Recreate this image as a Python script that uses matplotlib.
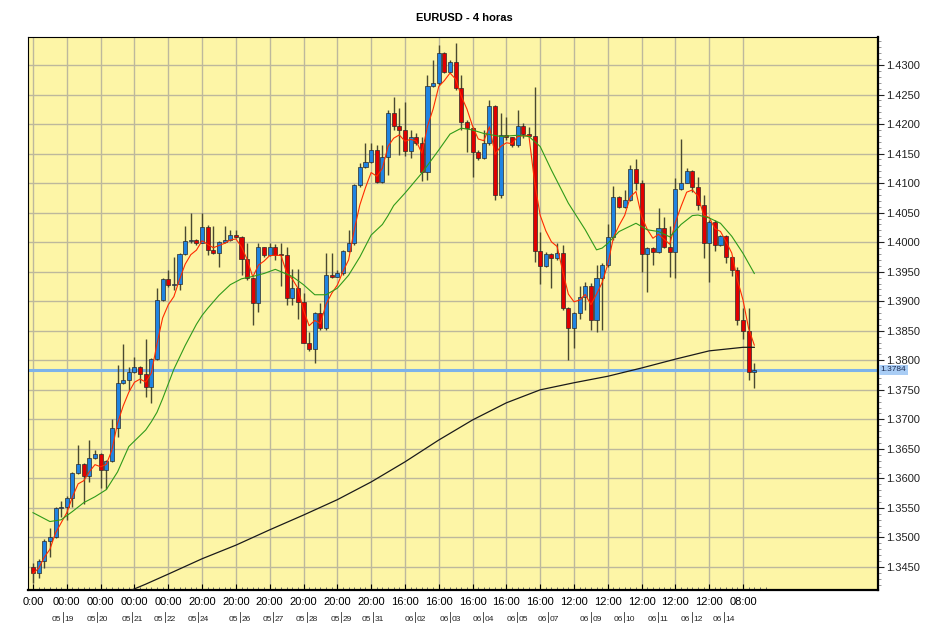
import matplotlib
matplotlib.use('Agg')
import matplotlib.pyplot as plt
import matplotlib.transforms as mtransforms
from matplotlib.ticker import MultipleLocator, FixedLocator, FormatStrFormatter
import numpy as np
import pandas as pd

# EURUSD 4h candles
opens = [1.34507, 1.34394, 1.34603, 1.34947, 1.35003, 1.35494, 1.35510, 1.35675, 1.36087, 1.36239,
         1.36042, 1.36341, 1.36414, 1.36143, 1.36296, 1.36849, 1.37611, 1.37667, 1.37808, 1.37882,
         1.37763, 1.37554, 1.38017, 1.39021, 1.39371, 1.39275, 1.39290, 1.39795, 1.40020, 1.40030,
         1.39981, 1.40263, 1.39868, 1.39823, 1.39998, 1.40037, 1.40122, 1.40082, 1.39721, 1.39388,
         1.38965, 1.39913, 1.39783, 1.39913, 1.39800, 1.39778, 1.39050, 1.39219, 1.38982, 1.38299,
         1.38186, 1.38807, 1.38542, 1.39445, 1.39405, 1.39484, 1.39851, 1.39992, 1.40968, 1.41267,
         1.41363, 1.41561, 1.41025, 1.41448, 1.42182, 1.41967, 1.41900, 1.41550, 1.41787, 1.41674,
         1.41194, 1.42645, 1.42690, 1.43209, 1.42887, 1.43056, 1.42605, 1.42041, 1.41928, 1.41533,
         1.41420, 1.41674, 1.42306, 1.40799, 1.41815, 1.41775, 1.41646, 1.41967, 1.41830, 1.41800,
         1.39856, 1.39600, 1.39799, 1.39726, 1.39810, 1.38879, 1.38541, 1.38795, 1.39065, 1.39257,
         1.38682, 1.39387, 1.39613, 1.40093, 1.40758, 1.40589, 1.40713, 1.41233, 1.40996, 1.39799,
         1.39895, 1.39839, 1.40234, 1.39923, 1.39839, 1.40894, 1.41007, 1.41210, 1.40939, 1.40629,
         1.39982, 1.40349, 1.39954, 1.40106, 1.39745, 1.39530, 1.38684, 1.38503, 1.37809]
highs = [1.34563, 1.34631, 1.34970, 1.35156, 1.35523, 1.35624, 1.35703, 1.36115, 1.36567, 1.36256,
         1.36651, 1.36482, 1.36437, 1.36313, 1.37001, 1.37921, 1.38277, 1.37893, 1.38062, 1.37900,
         1.38356, 1.38034, 1.39219, 1.39388, 1.39529, 1.39755, 1.39812, 1.40274, 1.40489, 1.40049,
         1.40489, 1.40291, 1.40274, 1.40026, 1.40274, 1.40200, 1.40210, 1.40105, 1.39990, 1.39417,
         1.39990, 1.39924, 1.39992, 1.39970, 1.39981, 1.39924, 1.39541, 1.39541, 1.39134, 1.38485,
         1.38824, 1.38976, 1.39823, 1.39823, 1.39529, 1.39868, 1.40207, 1.40990, 1.41335, 1.41674,
         1.41674, 1.41646, 1.41646, 1.42238, 1.42464, 1.42266, 1.42379, 1.41900, 1.41843, 1.41787,
         1.42831, 1.43085, 1.43339, 1.43220, 1.43085, 1.43367, 1.42831, 1.42069, 1.41956, 1.41561,
         1.41900, 1.42407, 1.42323, 1.42182, 1.42126, 1.41787, 1.42238, 1.42012, 1.41950, 1.42632,
         1.40177, 1.39839, 1.39822, 1.39980, 1.39952, 1.38900, 1.38823, 1.39257, 1.39331, 1.39302,
         1.39613, 1.39641, 1.40307, 1.40950, 1.40780, 1.40883, 1.41306, 1.41402, 1.41052, 1.39923,
         1.39910, 1.40572, 1.40431, 1.40273, 1.41080, 1.41740, 1.41249, 1.41221, 1.41108, 1.40800,
         1.40377, 1.40377, 1.40123, 1.40123, 1.39760, 1.39587, 1.38882, 1.38882, 1.37950]
lows = [1.34225, 1.34309, 1.34479, 1.34676, 1.34986, 1.35353, 1.35297, 1.35523, 1.36070, 1.35568,
        1.35946, 1.36324, 1.35833, 1.35816, 1.36284, 1.36708, 1.37599, 1.37498, 1.37780, 1.37611,
        1.37385, 1.37272, 1.38000, 1.39000, 1.39247, 1.39191, 1.39191, 1.39783, 1.39992, 1.39953,
        1.39981, 1.39783, 1.39800, 1.39586, 1.39981, 1.40026, 1.40065, 1.39445, 1.39360, 1.38598,
        1.38824, 1.39755, 1.39766, 1.39699, 1.39258, 1.38937, 1.38937, 1.38694, 1.38288, 1.38164,
        1.37949, 1.38514, 1.38514, 1.39388, 1.39405, 1.39445, 1.39840, 1.39953, 1.40940, 1.41251,
        1.41347, 1.40997, 1.41008, 1.41138, 1.41900, 1.41476, 1.41459, 1.41420, 1.41646, 1.41042,
        1.41053, 1.42633, 1.42661, 1.42859, 1.42859, 1.42577, 1.41900, 1.41533, 1.41109, 1.41392,
        1.41403, 1.41646, 1.40714, 1.40743, 1.41730, 1.41617, 1.41617, 1.41760, 1.41780, 1.39669,
        1.39291, 1.39585, 1.39218, 1.39698, 1.38851, 1.38005, 1.38202, 1.38693, 1.38851, 1.38512,
        1.38484, 1.38512, 1.39585, 1.40036, 1.40572, 1.40572, 1.40702, 1.40883, 1.39500, 1.39161,
        1.39613, 1.39810, 1.39895, 1.39415, 1.39387, 1.40883, 1.40996, 1.40854, 1.40544, 1.39728,
        1.39333, 1.39858, 1.39937, 1.39643, 1.39429, 1.38599, 1.38357, 1.37668, 1.37527]
closes = [1.34394, 1.34603, 1.34947, 1.35003, 1.35494, 1.35510, 1.35675, 1.36087, 1.36239, 1.36042,
          1.36341, 1.36414, 1.36143, 1.36296, 1.36849, 1.37611, 1.37667, 1.37808, 1.37882, 1.37763,
          1.37554, 1.38017, 1.39021, 1.39371, 1.39275, 1.39290, 1.39795, 1.40020, 1.40030, 1.39981,
          1.40263, 1.39868, 1.39823, 1.39998, 1.40037, 1.40122, 1.40082, 1.39721, 1.39388, 1.38965,
          1.39913, 1.39783, 1.39913, 1.39783, 1.39778, 1.39050, 1.39219, 1.38982, 1.38299, 1.38186,
          1.38807, 1.38542, 1.39445, 1.39405, 1.39484, 1.39851, 1.39992, 1.40968, 1.41267, 1.41363,
          1.41561, 1.41025, 1.41448, 1.42182, 1.41967, 1.41900, 1.41550, 1.41787, 1.41674, 1.41194,
          1.42645, 1.42690, 1.43209, 1.42887, 1.43056, 1.42605, 1.42041, 1.41928, 1.41533, 1.41420,
          1.41674, 1.42306, 1.40799, 1.41815, 1.41775, 1.41646, 1.41967, 1.41830, 1.41800, 1.39856,
          1.39600, 1.39799, 1.39726, 1.39810, 1.38879, 1.38541, 1.38795, 1.39065, 1.39257, 1.38682,
          1.39387, 1.39613, 1.40093, 1.40758, 1.40589, 1.40713, 1.41233, 1.40996, 1.39799, 1.39895,
          1.39839, 1.40234, 1.39923, 1.39839, 1.40894, 1.41007, 1.41210, 1.40939, 1.40629, 1.39982,
          1.40349, 1.39954, 1.40106, 1.39745, 1.39530, 1.38684, 1.38503, 1.37809, 1.37840]

# slow MA (green) and long MA (black), read at sample candles
green_idx = [0, 3, 5, 7, 9, 11, 13, 15, 17, 20, 21, 22, 23, 24, 25, 26, 27, 28, 29, 30,
             31, 33, 35, 37, 39, 41, 43, 44, 46, 48, 50, 52, 54, 56, 58, 60, 62, 63, 64, 66,
             69, 72, 74, 76, 78, 80, 83, 86, 88, 90, 92, 95, 98, 100, 101, 102, 104, 107, 109, 111,
             113, 115, 117, 118, 120, 122, 124, 126, 128]
green_val = [1.3542, 1.3527, 1.3530, 1.3544, 1.3559, 1.3569, 1.3581, 1.3611, 1.3654, 1.3682,
             1.3696, 1.3712, 1.3735, 1.3760, 1.3785, 1.3805, 1.3825, 1.3843, 1.3861, 1.3876,
             1.3888, 1.3910, 1.3928, 1.3938, 1.3942, 1.3947, 1.3954, 1.3950, 1.3942, 1.3928,
             1.3911, 1.3911, 1.3922, 1.3944, 1.3975, 1.4012, 1.4030, 1.4045, 1.4062, 1.4083,
             1.4117, 1.4156, 1.4183, 1.4193, 1.4190, 1.4184, 1.4179, 1.4181, 1.4179, 1.4162,
             1.4122, 1.4066, 1.4021, 1.3987, 1.3990, 1.3998, 1.4018, 1.4032, 1.4021, 1.4018,
             1.4009, 1.4030, 1.4045, 1.4046, 1.4041, 1.4032, 1.4010, 1.3981, 1.3947]
black_idx = [17, 20, 24, 30, 36, 42, 48, 54, 60, 66, 72, 78, 84, 90, 96, 102, 108, 114, 120, 126, 128]
black_val = [1.3409, 1.3421, 1.3438, 1.3464, 1.3487, 1.3513, 1.3538, 1.3564, 1.3594, 1.3628,
             1.3665, 1.3699, 1.3728, 1.3750, 1.3762, 1.3773, 1.3787, 1.3802, 1.3816, 1.3822, 1.3822]
last_price = 1.3784

tick_labels = ['0:00'] + ['00:00'] * 4 + ['20:00'] * 6 + ['16:00'] * 5 + ['12:00'] * 5 + ['08:00']
date_labels = ['05/19', '05/20', '05/21', '05/22', '05/24', '05/26', '05/27', '05/28', '05/29', '05/31',
               '06/02', '06/03', '06/04', '06/05', '06/07', '06/09', '06/10', '06/11', '06/12', '06/14']
date_pos = [5.3, 11.4, 17.6, 23.4, 29.3, 36.7, 42.6, 48.6, 54.7, 60.3,
            67.8, 74.0, 79.9, 85.9, 91.4, 99.0, 104.9, 110.9, 116.9, 122.6]

plt.rcParams['font.family'] = ['Liberation Sans', 'DejaVu Sans']

fig = plt.figure(figsize=(9.35, 6.31), dpi=100, facecolor='white')
ax = fig.add_axes([28 / 935, 41 / 631, 850 / 935, 553 / 631])
ax.set_facecolor('#fdf5a6')

o = np.array(opens)
h = np.array(highs)
l = np.array(lows)
c = np.array(closes)
idx = np.arange(len(c))
up = c >= o

ax.set_axisbelow(True)
ax.grid(True, which='major', color='#bdb89c', lw=1)

ax.axhline(last_price, color='#7db3ea', lw=2.2, zorder=1.5)

ax.vlines(idx, l, h, color='#4a4a30', lw=1, zorder=2)
body = np.maximum(np.abs(c - o), 0.00008)
ax.bar(idx, body, bottom=np.minimum(o, c), width=0.72,
       color=np.where(up, '#1f84e2', '#e00000'), edgecolor='#2a2a2a', lw=0.5, zorder=3)

red = pd.Series(c).ewm(span=4, adjust=False).mean()
ax.plot(idx, red, color='#ff2a00', lw=0.8, zorder=4)
ax.plot(green_idx, green_val, color='#2f9a1a', lw=0.8, zorder=4)
ax.plot(black_idx, black_val, color='#1a1a1a', lw=0.9, zorder=4)

ax.set_xlim(-0.89, 149.95)
ax.set_ylim(1.34111, 1.43474)

# x axis
ax.xaxis.set_major_locator(FixedLocator(list(range(0, 127, 6))))
ax.set_xticklabels(tick_labels)
ax.xaxis.set_minor_locator(FixedLocator(list(range(0, 131))))
ax.tick_params(axis='x', which='major', direction='in', length=4, labelsize=8, pad=5)
ax.tick_params(axis='x', which='minor', direction='in', length=2.5, width=0.6, color='#555555')

# y axis on the right
ax.yaxis.tick_right()
ax.yaxis.set_major_locator(MultipleLocator(0.005))
ax.yaxis.set_minor_locator(MultipleLocator(0.001))
ax.yaxis.set_major_formatter(FormatStrFormatter('%.4f'))
ax.tick_params(axis='y', which='major', direction='out', length=4, labelsize=8, pad=2, colors='#222222')
ax.tick_params(axis='y', which='minor', direction='out', length=2, width=0.6, color='#888888')

for side in ['left', 'top']:
    ax.spines[side].set_linewidth(0.8)
for side in ['right', 'bottom']:
    ax.spines[side].set_linewidth(1.6)

# date row
trans = mtransforms.blended_transform_factory(ax.transData, ax.transAxes)
for pos, lbl in zip(date_pos, date_labels):
    mon, day = lbl.split('/')
    ax.text(pos - 0.25, -0.053, mon, transform=trans, ha='right', va='center', fontsize=6, color='#222222')
    ax.text(pos + 0.25, -0.053, day, transform=trans, ha='left', va='center', fontsize=6, color='#222222')
    ax.plot([pos, pos], [-0.040, -0.057], transform=trans, color='#333333', lw=0.6, clip_on=False)

# last price tag
ptrans = mtransforms.blended_transform_factory(ax.transAxes, ax.transData)
ax.text(1.003, last_price, '%.4f' % last_price, transform=ptrans, ha='left', va='center',
        fontsize=6, color='#1a2a50', bbox=dict(facecolor='#a9cdf5', edgecolor='none', pad=1.2))

fig.text(0.497, 0.971, 'EURUSD - 4 horas', ha='center', va='center', fontsize=8, fontweight='bold')

fig.savefig('out.png', dpi=100, facecolor='white')
